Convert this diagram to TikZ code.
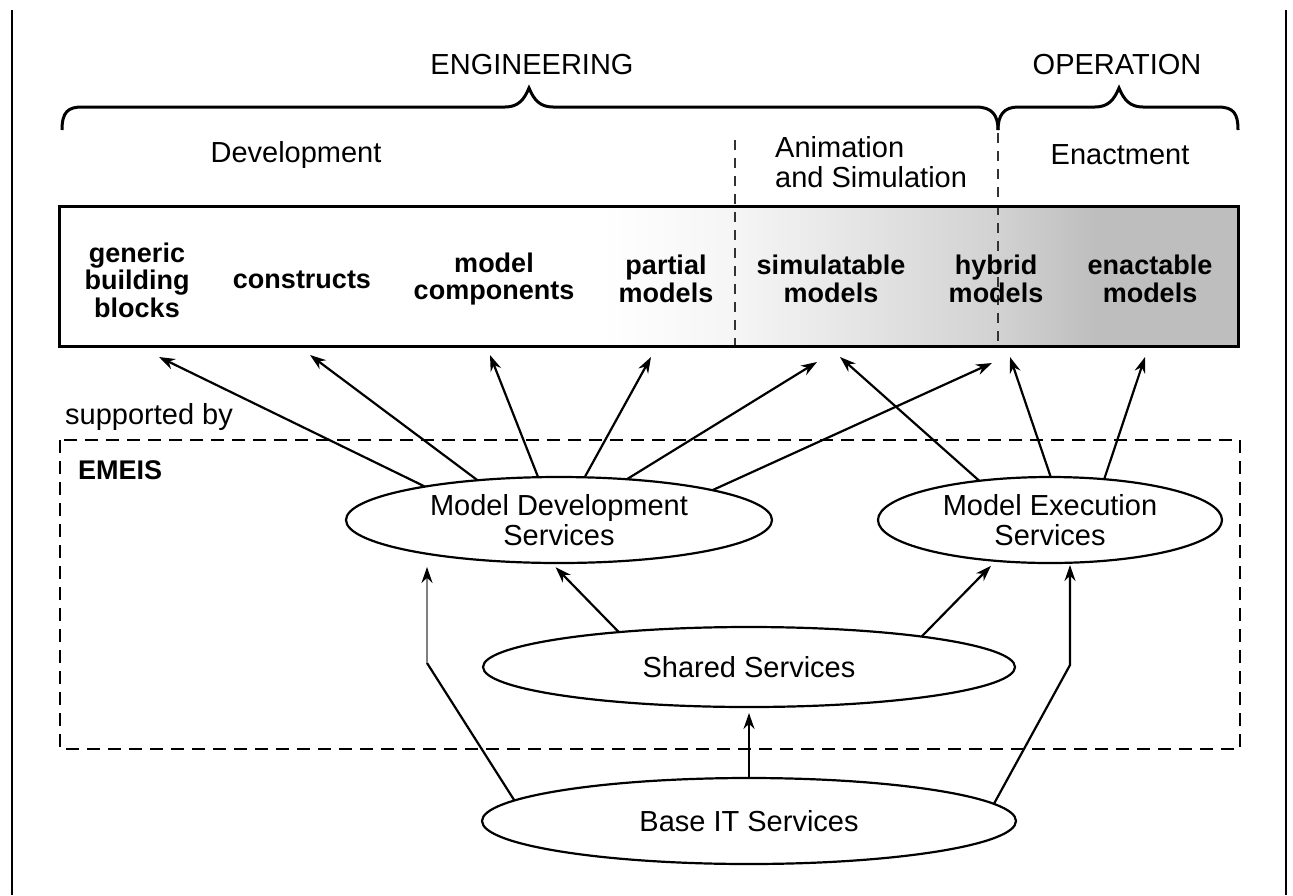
\documentclass[tikz,border=0pt]{standalone}
\usepackage{fontspec}
\setmainfont{Liberation Sans}
\usetikzlibrary{shapes.geometric,arrows.meta,calc}
\definecolor{shadegray}{RGB}{190,190,190}
\begin{document}
\begin{tikzpicture}[x=1pt,y=-1pt,
  reg/.style={font=\fontsize{29}{30}\selectfont, inner sep=0pt, align=center},
  lab/.style={font=\fontsize{27}{27.5}\selectfont\bfseries, inner sep=0pt, align=center},
  ell/.style={draw, ellipse, fill=white, line width=2.2pt, inner sep=0pt, outer sep=0pt, font=\fontsize{29}{30}\selectfont, align=center},
  arr/.style={line width=2.2pt, -{Stealth[length=16pt,width=11pt]}},
  bracestyle/.style={line width=3pt},
  vdash/.style={line width=2.5pt, black!80, dash pattern=on 10pt off 8pt},
  rdash/.style={line width=2.5pt, dash pattern=on 13pt off 8pt},
]
\useasboundingbox (0,0) rectangle (1293,895);

% outer frame lines
\draw[line width=2.5pt] (12,10) -- (12,895);
\draw[line width=2.5pt] (1286,10) -- (1286,895);

% headings
\node[reg] (eng) at (532,65) {ENGINEERING};
\node[reg] (op) at (1117,65) {OPERATION};

% braces
\draw[bracestyle] (62,130) .. controls (62,112) and (68,107) .. (82,107) -- (505,107)
  .. controls (518,107) and (524,100) .. (529,88)
  .. controls (534,100) and (540,107) .. (553,107) -- (976,107)
  .. controls (992,107) and (998,115) .. (998,130);
\draw[bracestyle] (998,130) .. controls (998,115) and (1004,107) .. (1018,107) -- (1095,107)
  .. controls (1108,107) and (1114,100) .. (1119,88)
  .. controls (1124,100) and (1130,107) .. (1143,107) -- (1218,107)
  .. controls (1234,107) and (1238,114) .. (1238,130);

\node[reg] (dev) at (296,155) {Development};
\node[reg, align=left, anchor=west] (anim) at (775,162) {Animation\\and Simulation};
\node[reg] (enact) at (1120,155) {Enactment};

% box shading
\shade[left color=white, right color=shadegray!15] (600,206) rectangle (735,346);
\shade[left color=shadegray!15, right color=shadegray!70] (735,206) rectangle (1000,346);
\shade[left color=shadegray!70, right color=shadegray] (1000,206) rectangle (1095,346);
\fill[shadegray] (1095,206) rectangle (1238,346);

% dashed separators
\draw[vdash] (735,140) -- (735,346);
\draw[vdash] (998,133) -- (998,346);

% box
\node[draw, line width=3pt, minimum width=1179pt, minimum height=140pt, inner sep=0pt] (box) at (648.5,276) {};

\node[lab] (gbb) at (137,280) {generic\\building\\blocks};
\node[lab] (con) at (302,280) {constructs};
\node[lab] (mc) at (494,279) {model\\components};
\node[lab] (pm) at (666,279) {partial\\models};
\node[lab] (sm) at (831,279) {simulatable\\models};
\node[lab] (hm) at (996,279) {hybrid\\models};
\node[lab] (em) at (1150,279) {enactable\\models};

\node[reg, anchor=west] (sup) at (65,417) {supported by};

% EMEIS frame
\draw[rdash] (60,440) rectangle (1240,749);
\node[lab, anchor=west] (emeis) at (78,470) {EMEIS};

% ellipses
\node[ell, minimum width=426pt, minimum height=86pt] (mds) at (559,520) {Model Development\\Services};
\node[ell, minimum width=344pt, minimum height=86pt] (mes) at (1050,520) {Model Execution\\Services};
\node[ell, minimum width=532pt, minimum height=80pt] (sh) at (749,667) {Shared Services};
\node[ell, minimum width=534pt, minimum height=86pt] (base) at (749,821) {Base IT Services};

% arrow targets under the box
\coordinate (t1) at (159,357);
\coordinate (t2) at (310,355);
\coordinate (t3) at (490,355);
\coordinate (t4) at (651,357);
\coordinate (t5) at (817,362);
\coordinate (t6) at (840,357);
\coordinate (t7) at (992,363);
\coordinate (t8) at (1010,357);
\coordinate (t9) at (1145,357);

\draw[arr] (mds.166.7) -- (t1);
\draw[arr] (mds.154.2) -- (t2);
\draw[arr] (mds.116) -- (t3);
\draw[arr] (mds.59.7) -- (t4);
\draw[arr] (mds.31.3) -- (t5);
\draw[arr] (mds.11.6) -- (t7);
\draw[arr] (mes.151.6) -- (t6);
\draw[arr] (mes.89) -- (t8);
\draw[arr] (mes.37.7) -- (t9);

% shared services
\draw[arr, shorten >=6pt] (sh.165.4) -- (mds.260.8);
\draw[arr, shorten >=7pt] (sh.10.6) -- (mes.217.7);

% base IT services
\draw[arr, shorten >=6pt] (base.north) -- (sh.south);
\coordinate (b1) at (427,663);
\coordinate (b2) at (1070,665);
\draw[line width=2.2pt] (base.175.4) -- (b1);
\draw[line width=2.2pt, black!50, -{Stealth[length=16pt,width=11pt,black]}, shorten >=4pt] (b1) -- (b1 |- mds.south);
\draw[arr, shorten >=2pt] (base.4.9) -- (b2) -- (b2 |- mes.south);
\end{tikzpicture}
\end{document}
